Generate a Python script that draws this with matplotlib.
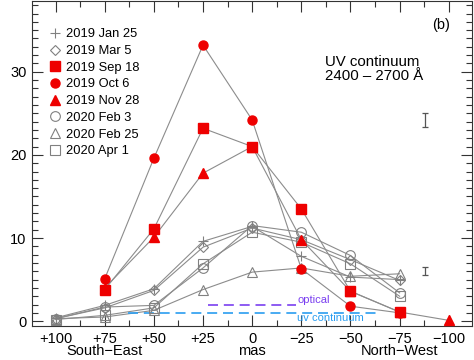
import matplotlib
matplotlib.use("Agg")
from matplotlib import pyplot as plt
from matplotlib.ticker import MultipleLocator

plt.rcParams['font.family'] = ['Liberation Sans', 'DejaVu Sans']

x_gray = [100, 75, 50, 25, 0, -25, -50, -75]
x_sep = [75, 50, 25, 0, -25, -50, -75]
x_oct = [75, 50, 25, 0, -25, -50, -75]
x_nov = [75, 50, 25, 0, -25, -50, -75, -100]

jan25 = [0.4, 1.9, 3.9, 9.6, 11.4, 7.8, 5.3, 5.0]
mar5 = [0.3, 1.6, 3.7, 8.9, 11.2, 9.8, 7.4, 4.9]
feb3 = [0.3, 1.7, 1.9, 6.4, 11.5, 10.7, 7.9, 3.4]
feb25 = [0.3, 0.5, 1.3, 3.8, 5.9, 6.4, 5.4, 5.7]
apr1 = [0.2, 0.7, 1.6, 6.9, 10.7, 9.5, 6.9, 3.0]

sep18 = [3.8, 11.1, 23.2, 21.0, 13.5, 3.6, 1.1]
oct6 = [5.1, 19.6, 33.2, 24.2, 6.3, 1.8, 1.0]
nov28 = [4.0, 10.1, 17.8, 21.0, 9.8, 3.6, 1.1, 0.1]

err_x = [-88, -88]
err_y = [24.2, 6.0]
err_h = [0.8, 0.5]

xticks = [100, 75, 50, 25, 0, -25, -50, -75, -100]
xticklabels = ["+100", "+75", "+50", "+25", "0", "\u221225", "\u221250", "\u221275", "\u2212100"]

fig = plt.figure(figsize=(4.74, 3.6), dpi=100)
ax = fig.add_axes([0.0675, 0.094, 0.929, 0.903])

gray = "#808080"
lgray = "#8c8c8c"
red = "#ee0000"

gray_series = [
    (jan25, "+", "2019 Jan 25"),
    (mar5, "D", "2019 Mar 5"),
    (feb3, "o", "2020 Feb 3"),
    (feb25, "^", "2020 Feb 25"),
    (apr1, "s", "2020 Apr 1"),
]
handles = {}
for y, m, lab in gray_series:
    ax.plot(x_gray, y, color=lgray, lw=0.8, zorder=2)
    ms = 5 if m == "D" else 7
    h, = ax.plot(x_gray, y, ls="none", marker=m, ms=ms, mfc="none",
                 mec=gray, mew=0.8, label=lab, zorder=3)
    handles[lab] = h

red_series = [
    (x_sep, sep18, "s", "2019 Sep 18"),
    (x_oct, oct6, "o", "2019 Oct 6"),
    (x_nov, nov28, "^", "2019 Nov 28"),
]
for x, y, m, lab in red_series:
    ax.plot(x, y, color=lgray, lw=0.8, zorder=2)
    h, = ax.plot(x, y, ls="none", marker=m, ms=6.5, mfc=red, mec=red,
                 label=lab, zorder=4)
    handles[lab] = h

ax.errorbar(err_x, err_y, yerr=err_h, fmt="none", ecolor="#555555",
            elinewidth=0.9, capsize=2.5, capthick=0.9)

# reference widths
ax.plot([22.5, -22.5], [2.0, 2.0], ls=(0, (6, 3.5)), color="#7a3ff0", lw=1.2)
ax.text(-23, 2.0, "optical", color="#7a3ff0", fontsize=8, va="bottom", ha="left")
ax.plot([63, -63], [1.0, 1.0], ls=(0, (6, 3.5)), color="#2a9df0", lw=1.2)
ax.text(-23, 1.0, "uv continuum", color="#2a9df0", fontsize=8, va="top", ha="left")

order = ["2019 Jan 25", "2019 Mar 5", "2019 Sep 18", "2019 Oct 6",
         "2019 Nov 28", "2020 Feb 3", "2020 Feb 25", "2020 Apr 1"]
ax.legend([handles[k] for k in order], order, loc="upper left",
          bbox_to_anchor=(0.028, 0.932), frameon=False, fontsize=9.3,
          handlelength=0.8, handletextpad=0.5, labelspacing=0.36,
          borderaxespad=0, numpoints=1)

ax.text(-37, 32.0, "UV continuum\n2400 \u2013 2700 \u00c5", fontsize=10.8,
        ha="left", va="top", linespacing=1.0)
ax.text(0.95, 0.925, "(b)", transform=ax.transAxes, fontsize=10.5,
        ha="right", va="center")

ax.set_xlim(112, -112)
ax.set_ylim(-0.6, 38.5)
ax.set_xticks(xticks)
ax.set_xticklabels(xticklabels)
ax.xaxis.set_minor_locator(MultipleLocator(12.5))
ax.yaxis.set_major_locator(MultipleLocator(10))
ax.yaxis.set_minor_locator(MultipleLocator(1))
ax.tick_params(which="both", direction="in", top=True, right=True,
               labelsize=10.5, color="#333333")
ax.tick_params(which="major", length=8, width=0.8, pad=4)
ax.tick_params(which="minor", length=4, width=0.8)
for s in ax.spines.values():
    s.set_linewidth(0.8)
    s.set_color("#333333")

for xv, lab in [(75, "South\u2212East"), (0, "mas"), (-75, "North\u2212West")]:
    ax.text(xv, -0.077, lab, transform=ax.get_xaxis_transform(),
            ha="center", va="center", fontsize=10.5)

fig.savefig("out.png", dpi=100)
